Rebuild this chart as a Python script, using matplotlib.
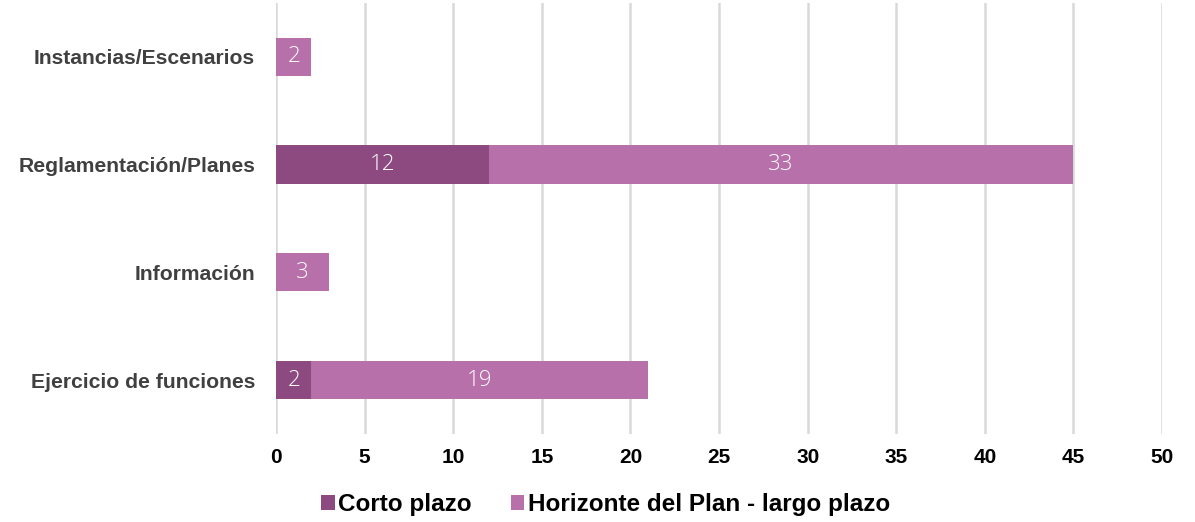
import matplotlib
matplotlib.use("Agg")
import matplotlib.pyplot as plt
import numpy as np

categories = ["Ejercicio de funciones", "Información", "Reglamentación/Planes", "Instancias/Escenarios"]
corto = [2, 0, 12, 0]
largo = [19, 3, 33, 2]
series_names = ["Corto plazo", "Horizonte del Plan - largo plazo"]

c_dark = "#8C4A81"
c_light = "#B870AB"

plt.rcParams["font.family"] = ["Liberation Sans", "DejaVu Sans"]

fig = plt.figure(figsize=(11.95, 5.22), dpi=100)
ax = fig.add_axes([0.231, 0.1686, 0.7414, 0.8257])

y = np.arange(len(categories))
h = 0.355
b1 = ax.barh(y, corto, height=h, color=c_dark, label=series_names[0], zorder=3)
b2 = ax.barh(y, largo, left=corto, height=h, color=c_light, label=series_names[1], zorder=3)

# white value labels inside the segments
for vals, lefts in [(corto, [0] * len(corto)), (largo, corto)]:
    for yi, v, l in zip(y, vals, lefts):
        if v > 0:
            ax.text(l + v / 2, yi, str(v), ha="center", va="center", color="white",
                    fontsize=16, fontfamily=["Open Sans", "DejaVu Sans"], fontweight="light", zorder=4)

ax.set_xlim(0, 50)
ax.set_ylim(-0.5, 3.5)
ax.set_xticks(range(0, 51, 5))
ax.set_yticks(y)
ax.set_yticklabels(categories)
for lab in ax.get_xticklabels():
    lab.set_fontweight("bold")
    lab.set_fontsize(15)
for lab in ax.get_yticklabels():
    lab.set_fontweight("bold")
    lab.set_fontsize(15.2)
    lab.set_color("#404040")
ax.tick_params(length=0)
ax.tick_params(axis="x", pad=10)
ax.tick_params(axis="y", pad=15)
ax.grid(axis="x", color="#d9d9d9", linewidth=1.8, zorder=0)
for s in ax.spines.values():
    s.set_visible(False)

fig.legend(loc="center", bbox_to_anchor=(0.507, 0.033), ncol=2, frameon=False,
           prop={"weight": "bold", "size": 17.5}, handlelength=0.55, handleheight=0.55,
           handletextpad=0.15, columnspacing=1.6)

fig.savefig("out.png", dpi=100)
